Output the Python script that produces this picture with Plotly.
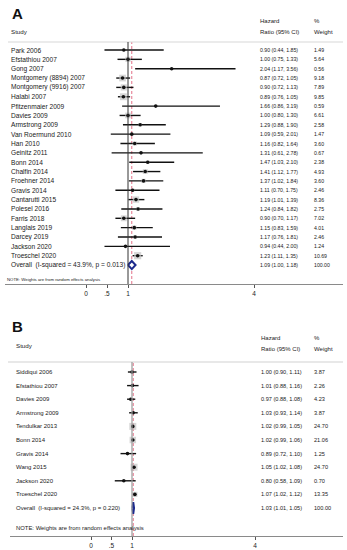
import plotly.graph_objects as go

W, H = 347, 550

# ---------------- Panel A data ----------------
studies_a = ["Park 2006", "Efstathiou 2007", "Gong 2007", "Montgomery (8894) 2007",
             "Montgomery (9916) 2007", "Halabi 2007", "Pfitzenmaier 2009", "Davies 2009",
             "Armstrong 2009", "Van Roermund 2010", "Han 2010", "Geinitz 2011", "Bonn 2014",
             "Chalfin 2014", "Froehner 2014", "Gravis 2014", "Cantarutti 2015", "Polesel 2016",
             "Farris 2018", "Langlais 2019", "Darcey 2019", "Jackson 2020", "Troeschel 2020"]
hr_a = [0.90, 1.00, 2.04, 0.87, 0.90, 0.89, 1.66, 1.00, 1.29, 1.09, 1.16, 1.31, 1.47,
        1.41, 1.37, 1.11, 1.19, 1.24, 0.90, 1.15, 1.17, 0.94, 1.23]
lo_a = [0.44, 0.75, 1.17, 0.72, 0.72, 0.76, 0.86, 0.80, 0.88, 0.59, 0.82, 0.61, 1.03,
        1.12, 1.02, 0.70, 1.01, 0.84, 0.70, 0.83, 0.76, 0.44, 1.11]
hi_a = [1.85, 1.33, 3.56, 1.05, 1.13, 1.05, 3.19, 1.30, 1.90, 2.01, 1.64, 2.78, 2.10,
        1.77, 1.84, 1.75, 1.39, 1.82, 1.17, 1.59, 1.81, 2.00, 1.35]
w_a = [1.49, 5.64, 0.56, 9.18, 7.89, 9.85, 0.59, 6.61, 2.58, 1.47, 3.60, 0.67, 2.38,
       4.93, 3.60, 2.46, 8.36, 2.75, 7.02, 4.01, 2.46, 1.24, 10.69]
overall_a = {"label": "Overall  (I-squared = 43.9%, p = 0.013)", "hr": 1.09, "lo": 1.00, "hi": 1.18, "w": 100.00}

# ---------------- Panel B data ----------------
studies_b = ["Siddiqui 2006", "Efstathiou 2007", "Davies 2009", "Armstrong 2009",
             "Tendulkar 2013", "Bonn 2014", "Gravis 2014", "Wang 2015", "Jackson 2020",
             "Troeschel 2020"]
hr_b = [1.00, 1.01, 0.97, 1.03, 1.02, 1.02, 0.89, 1.05, 0.80, 1.07]
lo_b = [0.90, 0.88, 0.88, 0.93, 0.99, 0.99, 0.72, 1.02, 0.58, 1.02]
hi_b = [1.11, 1.16, 1.08, 1.14, 1.05, 1.06, 1.10, 1.08, 1.09, 1.12]
w_b = [3.87, 2.26, 4.23, 3.87, 24.70, 21.06, 1.25, 24.70, 0.70, 13.35]
overall_b = {"label": "Overall  (I-squared = 24.3%, p = 0.220)", "hr": 1.03, "lo": 1.01, "hi": 1.05, "w": 100.00}

tick_vals = [0, 0.5, 1, 4]
tick_text = ["0", ".5", "1", "4"]

FONT = "Liberation Sans, Arial, sans-serif"
TXT = "#1a1a1a"

fig = go.Figure()


def px_x(p):
    return p / W


def px_y(p):
    return 1 - p / H


def add_panel(xa, ya, studies, hr, lo, hi, w, overall, box_k, dia_h):
    n = len(studies)
    rows = list(range(n))
    # CI lines
    lx, ly = [], []
    for r, a, b in zip(rows, lo, hi):
        lx += [a, b, None]
        ly += [r, r, None]
    fig.add_trace(go.Scatter(x=lx, y=ly, mode="lines", line=dict(color="#111111", width=1.4),
                             xaxis=xa, yaxis=ya, hoverinfo="skip", showlegend=False))
    # weight boxes
    wmax = max(w)
    fig.add_trace(go.Scatter(x=hr, y=rows, mode="markers",
                             marker=dict(symbol="square", color="#c4c4c4",
                                         size=[box_k * (v / wmax) ** 0.5 for v in w], line=dict(width=0)),
                             xaxis=xa, yaxis=ya, hoverinfo="skip", showlegend=False))
    # point estimates
    fig.add_trace(go.Scatter(x=hr, y=rows, mode="markers",
                             marker=dict(symbol="circle", color="#111111", size=3.6),
                             xaxis=xa, yaxis=ya, hoverinfo="skip", showlegend=False))
    # overall diamond
    r = n
    fig.add_trace(go.Scatter(x=[overall["lo"], overall["hr"], overall["hi"], overall["hr"], overall["lo"]],
                             y=[r, r - dia_h, r, r + dia_h, r], mode="lines", fill="toself",
                             fillcolor="white", line=dict(color="#1c2a8c", width=2),
                             xaxis=xa, yaxis=ya, hoverinfo="skip", showlegend=False))
    return rows


# ---------------- geometry (pixels) ----------------
A_top, A_bot = 42, 284
A_row0, A_dy = 50, 9.35
B_top, B_bot = 362, 536
B_row0, B_dy = 372, 13.6

ax0, ax1 = 5, 343
A_x0, A_s = 86, 42.0
bx0, bx1 = 10, 343
B_x0, B_s = 91, 41.0

rows_a = add_panel("x", "y", studies_a, hr_a, lo_a, hi_a, w_a, overall_a, 7.2, 0.43)
rows_b = add_panel("x2", "y2", studies_b, hr_b, lo_b, hi_b, w_b, overall_b, 7.0, 0.44)

axis_common = dict(showgrid=False, zeroline=False, showline=True, linecolor="#8a8a8a", linewidth=1.2,
                   ticks="outside", ticklen=3, tickcolor="#555555", tickwidth=1,
                   tickvals=tick_vals, ticktext=tick_text,
                   tickfont=dict(family=FONT, size=6.5, color=TXT))

fig.update_layout(
    width=W, height=H, margin=dict(l=0, r=0, t=0, b=0),
    paper_bgcolor="white", plot_bgcolor="white", showlegend=False,
    xaxis=dict(domain=[px_x(ax0), px_x(ax1)],
               range=[(ax0 - A_x0) / A_s, (ax1 - A_x0) / A_s], anchor="y", **axis_common),
    yaxis=dict(domain=[px_y(A_bot), px_y(A_top)],
               range=[(A_bot - A_row0) / A_dy, (A_top - A_row0) / A_dy],
               showgrid=False, zeroline=False, showticklabels=False, showline=False, anchor="x"),
    xaxis2=dict(domain=[px_x(bx0), px_x(bx1)],
                range=[(bx0 - B_x0) / B_s, (bx1 - B_x0) / B_s], anchor="y2", **axis_common),
    yaxis2=dict(domain=[px_y(B_bot), px_y(B_top)],
                range=[(B_bot - B_row0) / B_dy, (B_top - B_row0) / B_dy],
                showgrid=False, zeroline=False, showticklabels=False, showline=False, anchor="x2"),
)

shapes = []
# separators
shapes.append(dict(type="line", xref="paper", yref="paper", x0=px_x(8), x1=px_x(343),
                   y0=px_y(A_top), y1=px_y(A_top), line=dict(color="#d8d8d8", width=1.2)))
shapes.append(dict(type="line", xref="paper", yref="paper", x0=px_x(8), x1=px_x(343),
                   y0=px_y(B_top), y1=px_y(B_top), line=dict(color="#e0e0e0", width=1.5)))
# null lines
shapes.append(dict(type="line", xref="x", yref="y domain", x0=1, x1=1, y0=0, y1=1,
                   line=dict(color="#333333", width=1)))
shapes.append(dict(type="line", xref="x2", yref="y2 domain", x0=1, x1=1, y0=0, y1=1,
                   line=dict(color="#9a9a9a", width=1.2)))
# overall effect dashed lines
shapes.append(dict(type="line", xref="x", yref="y domain", x0=overall_a["hr"], x1=overall_a["hr"], y0=0, y1=1,
                   line=dict(color="#e0607a", width=0.9, dash="3px,2px"), layer="below"))
shapes.append(dict(type="line", xref="x2", yref="y2 domain", x0=overall_b["hr"], x1=overall_b["hr"], y0=0, y1=1,
                   line=dict(color="#e0607a", width=0.9, dash="3px,2px"), layer="below"))
fig.update_layout(shapes=shapes)

ann = []


def t(x, y, text, size, yref="paper", bold=False, color=TXT, xanchor="left"):
    ann.append(dict(x=px_x(x), y=y if yref != "paper" else px_y(y), xref="paper", yref=yref,
                    text=("<b>%s</b>" % text) if bold else text, showarrow=False,
                    xanchor=xanchor, yanchor="middle", borderpad=0,
                    font=dict(family=FONT, size=size, color=color)))


# Panel labels
t(11, 13, "A", 15, bold=True, color="#111111")
t(11, 326, "B", 15, bold=True, color="#111111")

# Panel A header
t(10, 31, "Study", 6.2)
t(259, 21, "Hazard", 6.0)
t(259, 32, "Ratio (95% CI)", 6.0)
t(313, 21, "%", 6.0)
t(313, 32, "Weight", 6.0)

for r, s, h, a, b, wv in zip(rows_a, studies_a, hr_a, lo_a, hi_a, w_a):
    t(10, r, s, 6.6, yref="y")
    t(259, r, "%.2f (%.2f, %.2f)" % (h, a, b), 5.2, yref="y")
    t(313, r, "%.2f" % wv, 5.2, yref="y")
r = len(studies_a)
t(10, r, overall_a["label"], 6.6, yref="y")
t(259, r, "%.2f (%.2f, %.2f)" % (overall_a["hr"], overall_a["lo"], overall_a["hi"]), 5.2, yref="y")
t(313, r, "%.2f" % overall_a["w"], 5.2, yref="y")
t(6, 279, "NOTE: Weights are from random effects analysis", 4.3)

# Panel B header
t(15, 345, "Study", 6.2)
t(260, 338, "Hazard", 6.0)
t(260, 349, "Ratio (95% CI)", 6.0)
t(313, 338, "%", 6.0)
t(313, 349, "Weight", 6.0)

for r, s, h, a, b, wv in zip(rows_b, studies_b, hr_b, lo_b, hi_b, w_b):
    t(15, r, s, 6.0, yref="y2")
    t(260, r, "%.2f (%.2f, %.2f)" % (h, a, b), 5.6, yref="y2")
    t(313, r, "%.2f" % wv, 5.6, yref="y2")
r = len(studies_b)
t(15, r, overall_b["label"], 6.0, yref="y2")
t(260, r, "%.2f (%.2f, %.2f)" % (overall_b["hr"], overall_b["lo"], overall_b["hi"]), 5.6, yref="y2")
t(313, r, "%.2f" % overall_b["w"], 5.6, yref="y2")
t(15, 528, "NOTE: Weights are from random effects analysis", 5.9)

fig.update_layout(annotations=ann)

fig.write_html("out.html", config={"displayModeBar": False},
               post_script="document.body.style.margin='0';document.body.style.padding='0';")
